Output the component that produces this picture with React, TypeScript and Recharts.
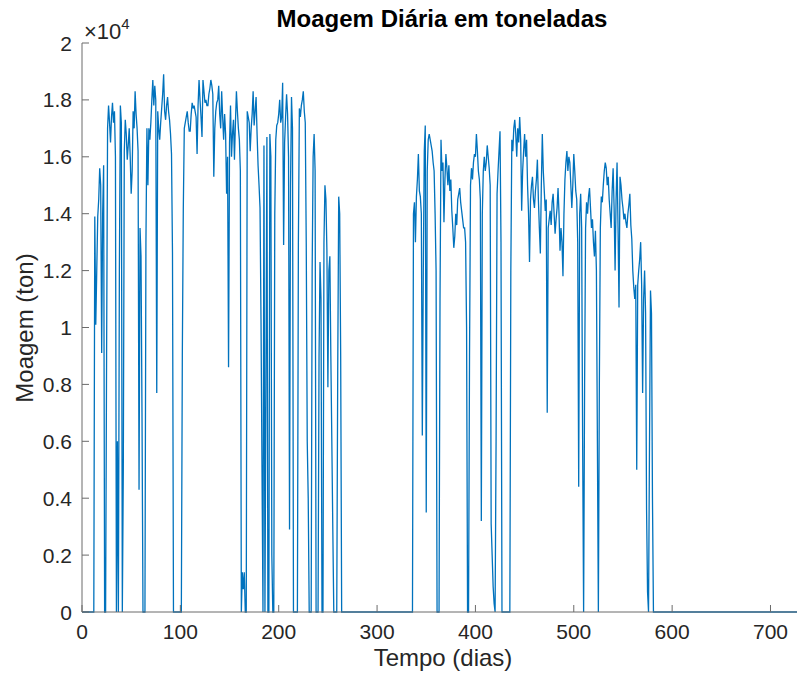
import React from "react";
import { LineChart, Line, XAxis, YAxis } from "recharts";

// Daily milling, in units of 10^4 tons (as on the y axis), one value per day.
const season1Start = 12;
const season1 = [
  0, 1.39, 1.01, 1.2, 1.39, 1.45, 1.56, 1.5, 0.91, 1.4,
  1.57, 0, 0, 0.9, 1.7, 1.78, 1.72, 1.65, 1.74, 1.79,
  1.72, 1.76, 1.6, 0, 0.6, 0, 1.2, 1.78, 1.72, 0,
  0.5, 1.62, 1.73, 1.68, 1.59, 1.64, 1.7, 1.6, 1.47, 1.55,
  1.76, 1.7, 1.83, 1.75, 1.7, 1.62, 0.43, 1.35, 1.25, 0.7,
  0, 0, 0, 1.3, 1.7, 1.5, 1.7, 1.66, 1.72, 1.8,
  1.87, 1.78, 1.85, 1.8, 0.77, 1.76, 1.7, 1.66, 1.72, 1.77,
  1.82, 1.89, 1.76, 1.73, 1.78, 1.81, 1.76, 1.73, 1.68, 1.61,
  1.26, 0, 0, 0, 0, 0, 0, 0, 0, 0,
  0.9, 1.42, 1.7, 1.72, 1.74, 1.76, 1.72, 1.69, 1.69, 1.75,
  1.79, 1.77, 1.78, 1.76, 1.74, 1.61, 1.78, 1.87, 1.8, 1.74,
  1.67, 1.87, 1.83, 1.79, 1.8, 1.78, 1.78, 1.82, 1.84, 1.87,
  1.85, 1.82, 1.53, 1.7, 1.76, 1.79, 1.8, 1.85, 1.75, 1.7,
  1.83, 1.74, 1.66, 1.75, 1.68, 1.47, 1.6, 0.86, 1.65, 1.78,
  1.6, 1.68, 1.73, 1.59, 1.72, 1.83, 1.76, 1.7, 1.66, 1.55,
  0, 0.14, 0.08, 0.14, 0, 0, 1.76, 1.74, 1.72, 1.62,
  1.7, 1.75, 1.83, 1.71, 1.76, 1.81, 1.68, 1.57, 1.5, 1.42,
  1.03, 0.5, 0, 1.64, 0, 0.8, 1.67, 0, 0, 1.68,
  1.6, 0.2, 0, 0, 1.4, 1.66, 1.71, 1.72, 1.75, 1.8,
  1.72, 1.74, 1.86, 1.29, 1.65, 1.74, 1.82, 1.75, 1.6, 0.29,
  1.5, 1.81, 1.7, 0, 0, 0, 0, 0, 1.3, 1.77,
  1.74, 1.78, 1.8, 1.83, 1.76, 1.72, 1.29, 0.6, 0.4, 0,
  0, 0, 1.2, 1.6, 1.68, 1.55, 0, 0, 0, 0.9,
  1.23, 1.1, 0, 0, 1.3, 1.5, 1.45, 1.27, 0.79, 1.2,
  1.25, 0.9, 0.6, 0.29, 0, 0, 0, 0, 0.85, 1.46,
  1.4, 0.9, 0, 0,
];

const season2Start = 335;
const season2 = [
  0, 0, 1.4, 1.44, 1.3, 1.46, 1.52, 1.61, 1.48, 1.46,
  1.4, 0.62, 1.2, 1.62, 1.71, 0.35, 1.55, 1.66, 1.68, 1.66,
  1.64, 1.62, 1.58, 1.55, 1.4, 1.2, 0, 0, 0, 1.1,
  1.66, 1.55, 1.58, 1.37, 1.52, 1.61, 1.56, 1.5, 1.57, 1.48,
  1.52, 1.41, 1.35, 1.28, 1.32, 1.4, 1.36, 1.45, 1.47, 1.49,
  1.44, 1.41, 1.38, 1.35, 1.35, 1.3, 1.0, 0, 0, 0.9,
  1.5, 1.56, 1.52, 1.58, 1.61, 1.6, 1.68, 1.62, 1.55, 1.52,
  1.45, 0.32, 1.4, 1.55, 1.6, 1.55, 1.58, 1.64, 1.6, 1.56,
  1.5, 0.31, 0.2, 0.09, 0.03, 0, 0.6, 1.47, 1.55, 1.62,
  1.69, 1.3, 0, 0, 0, 0, 0, 0, 0, 0,
  0, 1.2, 1.66, 1.62, 1.7, 1.73, 1.68, 1.6, 1.7, 1.65,
  1.74, 1.66, 1.41, 1.55, 1.62, 1.68, 1.6, 1.66, 1.5, 1.4,
  1.23, 1.45, 1.5, 1.53, 1.45, 1.42, 1.48, 1.52, 1.59, 1.45,
  1.35, 1.26, 1.5, 1.68, 1.55, 1.48, 1.41, 1.45, 0.7, 1.35,
  1.38, 1.41, 1.36, 1.44, 1.47, 1.4, 1.33, 1.38, 1.42, 1.49,
  1.4, 1.27, 1.35, 1.3, 1.18, 1.4, 1.52, 1.58, 1.62, 1.55,
  1.6, 1.58, 1.5, 1.42, 1.5, 1.61, 1.55, 1.48, 1.45, 1.3,
  0.44, 1.4, 1.47, 1.35, 0.6, 0, 0.8, 1.35, 1.44, 1.4,
  1.46, 1.49, 1.42, 1.35, 1.38, 1.3, 1.25, 1.34, 1.2, 0.6,
  0, 0.8, 1.35, 1.46, 1.44, 1.5, 1.55, 1.58, 1.56, 1.5,
  1.53, 1.45, 1.4, 1.35, 1.48, 1.56, 1.42, 1.2, 1.45, 1.58,
  1.35, 1.07, 1.53, 1.5, 1.45, 1.42, 1.38, 1.4, 1.37, 1.35,
  1.4, 1.43, 1.47, 1.36, 1.31, 1.2, 1.14, 1.1, 1.15, 0.5,
  1.15, 1.2, 1.24, 1.3, 1.15, 0.77, 1.1, 1.2, 1.05, 0.36,
  0.07, 0, 0.6, 1.13, 1.05, 0.4, 0, 0,
];

const lastDay = 730;
const unitScale = 10000;
const xTicks = [0, 100, 200, 300, 400, 500, 600, 700];
const yTicks = [0, 2000, 4000, 6000, 8000, 10000, 12000, 14000, 16000, 18000, 20000];

const titleText = "Moagem Diária em toneladas";
const xLabelText = "Tempo (dias)";
const yLabelText = "Moagem (ton)";

const data = Array.from({ length: lastDay + 1 }, (_, day) => {
  let v = 0;
  if (day >= season1Start && day < season1Start + season1.length) v = season1[day - season1Start];
  else if (day >= season2Start && day < season2Start + season2.length) v = season2[day - season2Start];
  return { day, ton: v * unitScale };
});

const FONT = "'Liberation Sans', Arial, Helvetica, sans-serif";
const AXIS_COLOR = "#6b6b6b";
const TEXT_COLOR = "#262626";
const TICK_LEN = 7;
const X_MARGIN = 12;
const Y_MARGIN = 10;
const TICK_FONT = 21;

const fmtY = (v: number) => String(Number((v / unitScale).toFixed(1)));

const BottomTick = (p: any) => {
  const axisY = p.y - X_MARGIN;
  return (
    <g>
      <line x1={p.x} x2={p.x} y1={axisY} y2={axisY - TICK_LEN} stroke={AXIS_COLOR} strokeWidth={1} />
      <text x={p.x} y={p.y} dy="0.72em" textAnchor="middle" fontSize={TICK_FONT} fontFamily={FONT} fill={TEXT_COLOR}>
        {p.payload.value}
      </text>
    </g>
  );
};

const TopTick = (p: any) => (
  <line x1={p.x} x2={p.x} y1={p.y} y2={p.y + TICK_LEN} stroke={AXIS_COLOR} strokeWidth={1} />
);

const LeftTick = (p: any) => {
  const axisX = p.x + Y_MARGIN;
  return (
    <g>
      <line x1={axisX} x2={axisX + TICK_LEN} y1={p.y} y2={p.y} stroke={AXIS_COLOR} strokeWidth={1} />
      <text x={p.x} y={p.y} dy="0.36em" textAnchor="end" fontSize={TICK_FONT} fontFamily={FONT} fill={TEXT_COLOR}>
        {fmtY(p.payload.value)}
      </text>
    </g>
  );
};

const RightTick = (p: any) => (
  <line x1={p.x} x2={p.x - TICK_LEN} y1={p.y} y2={p.y} stroke={AXIS_COLOR} strokeWidth={1} />
);

export default function App() {
  return (
    <div
      style={{
        position: "absolute",
        left: 0,
        top: 0,
        width: 797,
        height: 679,
        overflow: "hidden",
        background: "#ffffff",
        fontFamily: FONT,
      }}
    >
      <LineChart width={805} height={679} data={data} margin={{ top: 43, right: 5, bottom: 0, left: 0 }}>
        <XAxis
          xAxisId="b"
          dataKey="day"
          type="number"
          domain={[0, lastDay]}
          ticks={xTicks}
          height={67}
          tickSize={0}
          tickMargin={X_MARGIN}
          tickLine={false}
          axisLine={{ stroke: AXIS_COLOR, strokeWidth: 1 }}
          tick={<BottomTick />}
          interval={0}
        />
        <XAxis
          xAxisId="t"
          orientation="top"
          dataKey="day"
          type="number"
          domain={[0, lastDay]}
          ticks={xTicks}
          height={0}
          tickSize={0}
          tickMargin={0}
          tickLine={false}
          axisLine={{ stroke: AXIS_COLOR, strokeWidth: 1 }}
          tick={<TopTick />}
          interval={0}
        />
        <YAxis
          yAxisId="l"
          type="number"
          domain={[0, 20000]}
          ticks={yTicks}
          width={82}
          tickSize={0}
          tickMargin={Y_MARGIN}
          tickLine={false}
          axisLine={{ stroke: AXIS_COLOR, strokeWidth: 1 }}
          tick={<LeftTick />}
          interval={0}
        />
        <YAxis
          yAxisId="r"
          orientation="right"
          type="number"
          domain={[0, 20000]}
          ticks={yTicks}
          width={0}
          tickSize={0}
          tickMargin={0}
          tickLine={false}
          axisLine={{ stroke: AXIS_COLOR, strokeWidth: 1 }}
          tick={<RightTick />}
          interval={0}
        />
        <Line
          xAxisId="b"
          yAxisId="l"
          type="linear"
          dataKey="ton"
          stroke="#0072BD"
          strokeWidth={1.3}
          dot={false}
          activeDot={false}
          isAnimationActive={false}
        />
      </LineChart>

      <div
        style={{
          position: "absolute",
          left: 192,
          width: 500,
          top: 4,
          textAlign: "center",
          fontWeight: "bold",
          fontSize: 24,
          color: "#000",
          lineHeight: "30px",
        }}
      >
        {titleText}
      </div>

      <div style={{ position: "absolute", left: 84, top: 19, fontSize: 22, color: TEXT_COLOR, lineHeight: "26px", whiteSpace: "nowrap" }}>
        ×10<sup style={{ fontSize: 15, verticalAlign: "top", position: "relative", top: -8 }}>4</sup>
      </div>

      <div
        style={{
          position: "absolute",
          left: 193,
          width: 500,
          top: 643,
          textAlign: "center",
          fontSize: 24,
          color: TEXT_COLOR,
          lineHeight: "30px",
        }}
      >
        {xLabelText}
      </div>

      <div
        style={{
          position: "absolute",
          left: 25 - 150,
          top: 328 - 15,
          width: 300,
          textAlign: "center",
          fontSize: 24,
          color: TEXT_COLOR,
          lineHeight: "30px",
          transform: "rotate(-90deg)",
        }}
      >
        {yLabelText}
      </div>
    </div>
  );
}
